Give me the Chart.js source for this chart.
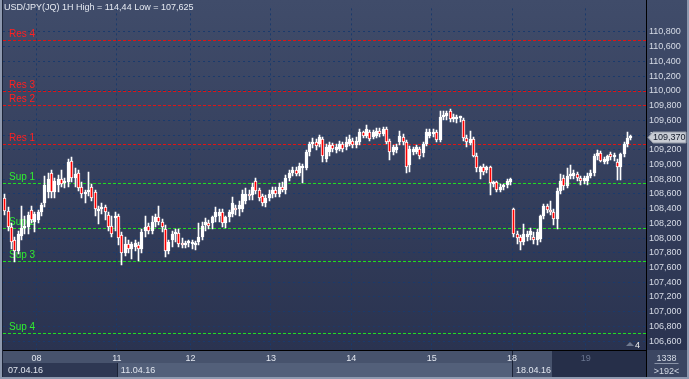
<!DOCTYPE html>
<html><head><meta charset="utf-8">
<script src="https://cdn.jsdelivr.net/npm/chart.js@4.4.1/dist/chart.umd.min.js"></script>
<style>html,body{margin:0;padding:0;background:#8e99af;}canvas{display:block;}</style>
</head><body>
<canvas id="c" width="689" height="379"></canvas>
<script>
// ---- data (USD/JPY 1H candles) ----
const openV = [
108.55,108.37,108.15,107.97,107.83,108.03,108.14,108.15,108.38,108.22,
108.25,108.35,108.47,108.62,108.88,108.62,108.72,108.80,108.75,108.76,
109.05,108.82,108.88,108.70,108.60,108.62,108.70,108.63,108.37,108.39,
108.42,108.32,108.17,108.27,108.30,108.04,107.80,107.92,107.85,107.88,
107.90,107.85,108.10,108.17,108.10,108.22,108.28,108.22,108.12,107.83,
107.97,108.05,108.07,107.93,107.90,107.93,107.92,107.90,107.95,108.02,
108.18,108.21,108.20,108.28,108.30,108.35,108.20,108.28,108.33,108.40,
108.40,108.40,108.50,108.60,108.58,108.78,108.65,108.57,108.48,108.55,
108.60,108.65,108.60,108.70,108.65,108.82,108.88,108.92,108.88,108.95,
108.95,109.17,109.28,109.30,109.28,109.35,109.08,109.17,109.26,109.19,
109.21,109.28,109.24,109.28,109.32,109.26,109.30,109.44,109.39,109.44,
109.37,109.39,109.46,109.41,109.48,109.32,109.17,109.19,109.30,109.37,
109.30,108.99,109.17,109.17,109.21,109.15,109.28,109.39,109.42,109.44,
109.33,109.64,109.66,109.72,109.62,109.62,109.63,109.60,109.36,109.29,
109.35,109.12,108.90,108.96,108.92,108.96,108.74,108.76,108.66,108.69,
108.72,108.76,108.39,108.06,108.01,107.95,108.02,108.04,108.02,107.98,
107.99,108.30,108.43,108.38,108.36,108.26,108.64,108.81,108.71,108.84,
108.85,108.87,108.82,108.77,108.77,108.85,108.88,109.12,109.15,109.04,
109.05,109.14,109.10,109.04,108.97,109.14,109.28,109.36];
const highV = [
108.60,108.42,108.20,108.02,108.10,108.44,108.30,108.36,108.44,108.36,
108.38,108.48,108.85,108.88,108.92,108.82,108.86,108.92,108.82,109.08,
109.10,108.95,108.92,108.76,108.66,108.90,108.74,108.66,108.43,108.47,
108.45,108.36,108.30,108.35,108.33,108.08,108.01,107.98,107.95,107.98,
107.95,108.12,108.30,108.20,108.30,108.33,108.44,108.26,108.18,107.98,
108.10,108.12,108.12,108.00,107.96,107.98,107.98,107.96,108.20,108.22,
108.27,108.24,108.30,108.42,108.40,108.40,108.30,108.38,108.56,108.45,
108.50,108.65,108.68,108.66,108.75,108.82,108.68,108.60,108.58,108.66,
108.70,108.70,108.75,108.76,108.86,108.92,108.96,108.97,109.02,109.00,
109.20,109.30,109.36,109.34,109.40,109.38,109.28,109.30,109.29,109.28,
109.32,109.31,109.37,109.40,109.36,109.37,109.48,109.46,109.53,109.47,
109.47,109.49,109.49,109.51,109.51,109.34,109.27,109.28,109.46,109.41,
109.33,109.25,109.24,109.27,109.24,109.31,109.48,109.48,109.48,109.47,
109.72,109.72,109.72,109.75,109.68,109.67,109.66,109.63,109.40,109.45,
109.38,109.15,108.98,109.00,108.98,108.98,108.78,108.78,108.74,108.74,
108.80,108.82,108.41,108.10,108.04,108.19,108.10,108.14,108.08,108.12,
108.32,108.46,108.46,108.50,108.40,108.68,108.87,108.86,108.95,108.99,
108.92,108.90,108.85,108.84,108.88,108.92,109.14,109.19,109.18,109.10,
109.13,109.17,109.15,109.08,109.16,109.30,109.44,109.40];
const lowV = [
108.32,108.10,107.85,107.68,107.78,107.98,108.05,108.05,108.20,108.08,
108.20,108.30,108.42,108.55,108.55,108.55,108.62,108.70,108.68,108.70,
108.76,108.70,108.64,108.55,108.48,108.57,108.50,108.30,108.19,108.33,
108.24,108.10,108.02,108.10,107.90,107.64,107.76,107.80,107.72,107.82,
107.69,107.80,108.02,108.05,108.05,108.15,108.18,108.08,107.74,107.78,
107.88,107.95,107.88,107.86,107.86,107.88,107.85,107.84,107.90,107.98,
108.10,108.12,108.12,108.22,108.22,108.15,108.14,108.22,108.28,108.32,
108.30,108.35,108.46,108.52,108.52,108.60,108.50,108.44,108.42,108.50,
108.55,108.56,108.56,108.62,108.60,108.78,108.84,108.84,108.84,108.75,
108.92,109.12,109.22,109.20,109.24,109.04,109.04,109.12,109.17,109.15,
109.18,109.17,109.20,109.25,109.22,109.23,109.27,109.36,109.36,109.32,
109.34,109.36,109.38,109.39,109.28,109.06,109.13,109.15,109.27,109.26,
108.88,108.90,109.13,109.14,109.08,109.10,109.25,109.36,109.38,109.30,
109.30,109.60,109.60,109.58,109.58,109.56,109.58,109.32,109.24,109.26,
109.10,108.90,108.80,108.86,108.88,108.59,108.70,108.62,108.62,108.65,
108.68,108.72,108.02,107.92,107.84,107.90,107.96,107.98,107.92,107.90,
107.95,108.26,108.34,108.32,108.18,108.12,108.60,108.66,108.68,108.80,
108.80,108.78,108.72,108.74,108.72,108.82,108.84,109.06,109.03,109.00,
109.00,109.06,109.05,108.79,108.79,109.10,109.24,109.33];
const closeV = [
108.37,108.15,107.95,107.83,108.05,108.14,108.17,108.32,108.24,108.33,
108.35,108.45,108.72,108.80,108.62,108.78,108.80,108.74,108.78,109.04,
108.81,108.87,108.68,108.60,108.63,108.66,108.55,108.39,108.40,108.42,
108.35,108.15,108.05,108.30,108.00,107.80,107.92,107.85,107.92,107.93,
107.85,108.08,108.15,108.10,108.22,108.28,108.22,108.15,107.83,107.95,
108.05,108.08,107.92,107.90,107.92,107.95,107.94,107.92,108.02,108.16,
108.22,108.17,108.28,108.35,108.35,108.20,108.28,108.35,108.47,108.38,
108.45,108.60,108.60,108.57,108.70,108.64,108.55,108.47,108.55,108.60,
108.65,108.60,108.70,108.65,108.82,108.88,108.92,108.87,108.98,108.96,
109.17,109.28,109.30,109.25,109.37,109.12,109.24,109.26,109.21,109.24,
109.28,109.21,109.30,109.35,109.26,109.32,109.44,109.39,109.48,109.35,
109.44,109.46,109.41,109.48,109.30,109.17,109.24,109.24,109.39,109.30,
108.97,109.21,109.21,109.24,109.12,109.28,109.44,109.44,109.44,109.33,
109.64,109.67,109.70,109.62,109.65,109.64,109.64,109.36,109.30,109.35,
109.12,108.95,108.96,108.90,108.96,108.75,108.76,108.66,108.70,108.72,
108.77,108.80,108.06,108.00,107.95,108.05,108.06,108.10,107.97,108.08,
108.30,108.43,108.38,108.36,108.26,108.64,108.77,108.71,108.85,108.86,
108.88,108.82,108.77,108.81,108.85,108.88,109.12,109.15,109.05,109.07,
109.11,109.10,109.13,108.97,109.14,109.28,109.36,109.37];
const slotCount = 192;                       // bars visible in the window (>192<)
const dayTickIndex = [10, 34, 56, 80, 104, 128, 152, 174];
const dayTickLabel = ['08', '11', '12', '13', '14', '15', '18', '19'];
const dateIndex = [0, 34, 152];
const dateLabel = ['07.04.16', '11.04.16', '18.04.16'];
const yTicks = [106.6,106.8,107.0,107.2,107.4,107.6,107.8,108.0,108.2,108.4,108.6,108.8,109.0,109.2,109.4,109.6,109.8,110.0,110.2,110.4,110.6,110.8];
const levelName  = ['Res 4', 'Res 3', 'Res 2', 'Res 1', 'Sup 1', 'Sup 2', 'Sup 3', 'Sup 4'];
const levelValue = [110.69, 110.00, 109.81, 109.28, 108.755, 108.14, 107.69, 106.715];
const lastPrice = 109.37;
const titleText = 'USD/JPY(JQ) 1H High = 114,44 Low = 107,625';
const totalBarsText = '1338';
const visibleBarsText = '>192<';
const cornerText = '4';

// ---- build library datasets from the arrays ----
const FONT = '"Liberation Sans", Arial, sans-serif';
const n = closeV.length;
const labels = Array.from({length: slotCount}, (_, i) => String(i));
const wickData = labels.map((_, i) => i < n ? [lowV[i], highV[i]] : null);
const bodyData = labels.map((_, i) => {
  if (i >= n) return null;
  let lo = Math.min(openV[i], closeV[i]), hi = Math.max(openV[i], closeV[i]);
  if (hi - lo < 0.027) hi = lo + 0.027;
  return [lo, hi];
});
const bodyFill = labels.map((_, i) => (i < n && closeV[i] < openV[i]) ? '#ff0000' : '#ffffff');
const fmt = v => v.toFixed(3).replace('.', ',');

const decor = {
  id: 'decor',
  beforeDraw(chart) {
    const {ctx, chartArea: a, scales: {x}} = chart;
    const W = chart.width, H = chart.height;
    const half = (x.getPixelForValue(1) - x.getPixelForValue(0)) / 2;
    const edge = i => x.getPixelForValue(i) - half;
    ctx.save();
    ctx.fillStyle = '#8e99af'; ctx.fillRect(0, 0, W, H);
    const g = ctx.createLinearGradient(0, 0, 0, a.bottom);
    g.addColorStop(0, '#404c6a'); g.addColorStop(1, '#2a3350');
    ctx.fillStyle = g; ctx.fillRect(a.left, 0, W - 2 - a.left, a.bottom);
    ctx.fillStyle = '#1c2438'; ctx.fillRect(a.left - 1, 0, 1, H - 2);
    const r1 = a.bottom, r2 = a.bottom + 13, r3 = H - 2;
    const x11 = Math.round(edge(dateIndex[1])), x18 = Math.round(edge(dateIndex[2]));
    ctx.fillStyle = '#47536d'; ctx.fillRect(a.left, r1, a.right - a.left, r2 - r1);
    ctx.fillStyle = '#2e3853'; ctx.fillRect(a.left, r2, x11 - a.left, r3 - r2);
    ctx.fillStyle = '#53607a'; ctx.fillRect(x11, r2, x18 - x11, r3 - r2);
    ctx.fillStyle = '#47536d'; ctx.fillRect(x18, r2, a.right - x18, r3 - r2);
    ctx.fillStyle = '#262f49'; ctx.fillRect(552, r1 + 1, a.right - 552, r3 - r1 - 1);
    ctx.fillStyle = '#1a2236';
    ctx.fillRect(x11, r2, 1, r3 - r2);
    ctx.fillRect(x18, r1, 1, r3 - r1);
    ctx.fillStyle = '#3b4662'; ctx.fillRect(a.right, r1, W - 2 - a.right, r3 - r1);
    ctx.fillStyle = '#000'; ctx.fillRect(a.right, 0, 1, r3);
    ctx.restore();
  },
  beforeDatasetsDraw(chart) {
    // snap bar elements computed by the scales onto whole pixels for crisp candles
    chart.data.datasets.forEach((ds, di) => {
      chart.getDatasetMeta(di).data.forEach(el => {
        if (el == null || el.skip || !isFinite(el.x) || !isFinite(el.y)) return;
        el.x = Math.floor(el.x) + 0.5;
        el.y = Math.round(el.y);
        el.base = Math.round(el.base);
      });
    });
    const {ctx, chartArea: a, scales: {y}} = chart;
    ctx.save();
    ctx.font = '10px ' + FONT;
    ctx.textBaseline = 'alphabetic';
    levelName.forEach((name, k) => {
      const py = Math.round(y.getPixelForValue(levelValue[k])) + 0.5;
      const res = name.startsWith('Res');
      ctx.strokeStyle = res ? '#e01414' : '#1fe01f';
      ctx.lineWidth = 1; ctx.setLineDash([3, 2]);
      ctx.beginPath(); ctx.moveTo(a.left, py); ctx.lineTo(a.right, py); ctx.stroke();
      ctx.fillStyle = res ? '#ff2020' : '#30ee30';
      ctx.fillText(name, a.left + 6, py - 4);
    });
    ctx.restore();
  },
  afterDraw(chart) {
    const {ctx, chartArea: a, scales: {x, y}} = chart;
    const W = chart.width, H = chart.height;
    const half = (x.getPixelForValue(1) - x.getPixelForValue(0)) / 2;
    ctx.save();
    ctx.font = '9px ' + FONT;
    ctx.fillStyle = '#e6eaf2'; ctx.textBaseline = 'middle'; ctx.textAlign = 'left';
    ctx.fillText(titleText, a.left + 1, 8);
    ctx.textBaseline = 'alphabetic';
    ctx.fillStyle = '#e0e5ee';
    dateIndex.forEach((di, k) => {
      const px = di === 0 ? a.left + 5 : x.getPixelForValue(di) - half + 4;
      ctx.fillText(dateLabel[k], px, H - 6);
    });
    ctx.textAlign = 'center'; ctx.fillStyle = '#d3d9e4';
    const cx = (a.right + W - 2) / 2;
    ctx.fillText(totalBarsText, cx, a.bottom + 11);
    ctx.fillText(visibleBarsText, cx, a.bottom + 24);
    ctx.fillStyle = '#8a94a8'; ctx.fillRect(cx - 12, a.bottom + 13, 24, 1);
    ctx.fillStyle = '#707a90';
    ctx.beginPath(); ctx.moveTo(626, a.bottom - 4); ctx.lineTo(630, a.bottom - 8); ctx.lineTo(634, a.bottom - 4); ctx.closePath(); ctx.fill();
    ctx.textAlign = 'right'; ctx.fillStyle = '#f0f0f0';
    ctx.fillText(cornerText, 640, a.bottom - 2);
    const yp = Math.round(y.getPixelForValue(lastPrice)) + 0.5;
    ctx.beginPath();
    ctx.moveTo(a.right + 2, yp); ctx.lineTo(a.right + 7, yp - 5.5);
    ctx.lineTo(W - 3, yp - 5.5); ctx.lineTo(W - 3, yp + 5.5); ctx.lineTo(a.right + 7, yp + 5.5);
    ctx.closePath();
    ctx.fillStyle = '#c8ccd4'; ctx.fill();
    ctx.strokeStyle = '#9097a4'; ctx.lineWidth = 1; ctx.stroke();
    ctx.fillStyle = '#141b2b'; ctx.textAlign = 'left'; ctx.textBaseline = 'middle';
    ctx.fillText(fmt(lastPrice), a.right + 7, yp + 0.5);
    ctx.restore();
  }
};

const gridColor = '#1a3a6c';
new Chart(document.getElementById('c'), {
  type: 'bar',
  data: {
    labels,
    datasets: [
      { label: 'body', data: bodyData, backgroundColor: bodyFill, borderColor: '#ffffff',
        borderWidth: 1, borderSkipped: false, barThickness: 3, grouped: false, order: 0 },
      { label: 'wick', data: wickData, backgroundColor: '#ffffff', borderWidth: 0,
        barThickness: 1, grouped: false, order: 1 }
    ]
  },
  options: {
    responsive: false, animation: false, events: [],
    layout: { padding: { left: 3, top: 2, right: 0, bottom: 2 } },
    plugins: { legend: { display: false }, tooltip: { enabled: false } },
    scales: {
      x: {
        type: 'category', offset: true,
        grid: { offset: true, drawTicks: false, lineWidth: 1,
          color: c => dayTickIndex.includes(c.index) ? gridColor : 'rgba(0,0,0,0)' },
        border: { color: '#000', width: 1, dash: [2, 3] },
        ticks: { autoSkip: false, maxRotation: 0, minRotation: 0, labelOffset: -1.67, padding: 3,
          font: { family: FONT, size: 9 },
          color: c => c.index === dayTickIndex[dayTickIndex.length - 1] ? '#6a7590' : '#e0e5ee',
          callback: (v, i) => { const k = dayTickIndex.indexOf(i); return k >= 0 ? dayTickLabel[k] : ''; } },
        afterFit: s => { s.height = 27; }
      },
      y: {
        position: 'right', min: 106.48, max: 111.12,
        afterBuildTicks: s => { s.ticks = yTicks.map(v => ({ value: v })); },
        grid: { drawTicks: false, color: gridColor, lineWidth: 1 },
        border: { color: '#000', width: 1, dash: [2, 3] },
        ticks: { padding: 3, color: '#d6dbe6', font: { family: FONT, size: 9 }, callback: v => fmt(v) },
        afterFit: s => { s.width = 43; }
      }
    }
  },
  plugins: [decor]
});
</script>
</body></html>
